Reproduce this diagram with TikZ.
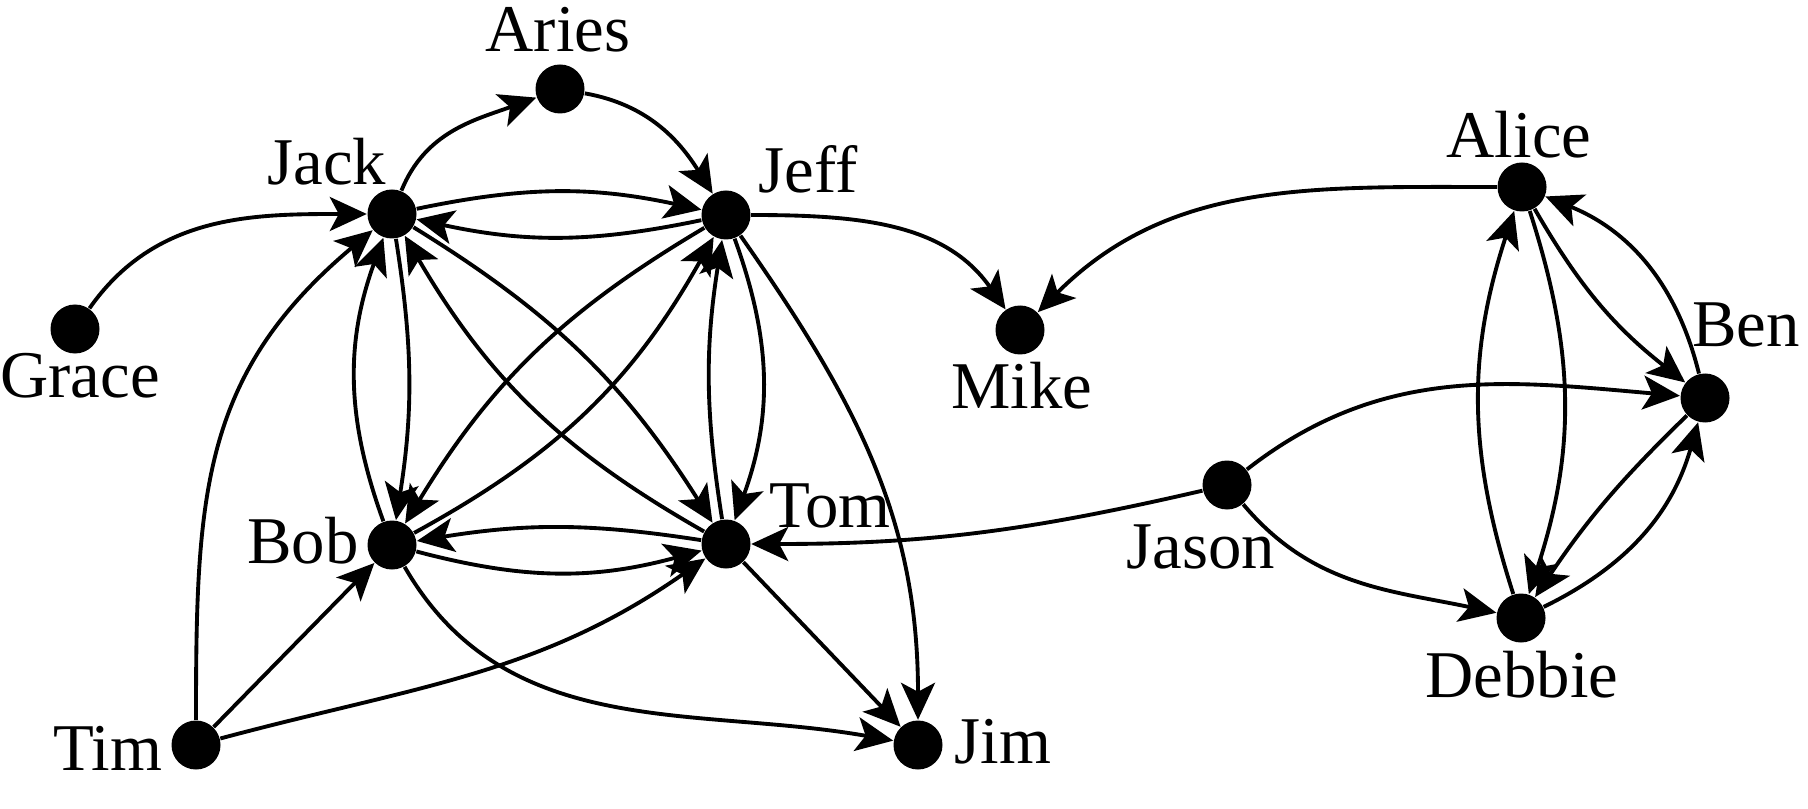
\documentclass[tikz,border=0pt]{standalone}
\usepackage{fontspec}
\setmainfont{Liberation Serif}
\usetikzlibrary{arrows.meta}
\tikzset{
    netperson/.style={circle, fill=black, minimum size=0.49cm, inner sep=0pt},
    netname/.style={anchor=base, inner sep=0pt, font=\fontsize{19}{22}\selectfont},
    netarrow/.style={draw, -{Stealth[length=3.7mm, width=3.4mm, inset=0.9mm]}, line width=1.1pt}
}

\begin{document}
\begin{tikzpicture}
    \useasboundingbox (0,0) rectangle (18.08,8.08);

    % people
    \node[netperson] (aries) at (5.60,7.19) {};
    \node[netperson] (jack) at (3.92,5.94) {};
    \node[netperson] (jeff) at (7.26,5.93) {};
    \node[netperson] (grace) at (0.75,4.79) {};
    \node[netperson] (mike) at (10.20,4.78) {};
    \node[netperson] (alice) at (15.22,6.21) {};
    \node[netperson] (ben) at (17.05,4.10) {};
    \node[netperson] (jason) at (12.27,3.23) {};
    \node[netperson] (bob) at (3.92,2.63) {};
    \node[netperson] (tom) at (7.26,2.64) {};
    \node[netperson] (debbie) at (15.21,1.90) {};
    \node[netperson] (tim) at (1.96,0.63) {};
    \node[netperson] (jim) at (9.18,0.63) {};

    % names
    \node[netname] (ariesname) at (5.58,7.56) {Aries};
    \node[netname] (jackname) at (3.27,6.23) {Jack};
    \node[netname] (jeffname) at (8.08,6.15) {Jeff};
    \node[netname] (gracename) at (0.80,4.10) {Grace};
    \node[netname] (mikename) at (10.22,4.00) {Mike};
    \node[netname] (alicename) at (15.19,6.50) {Alice};
    \node[netname] (benname) at (17.46,4.61) {Ben};
    \node[netname] (jasonname) at (12.01,2.40) {Jason};
    \node[netname] (bobname) at (3.03,2.45) {Bob};
    \node[netname] (tomname) at (8.30,2.81) {Tom};
    \node[netname] (debbiename) at (15.22,1.11) {Debbie};
    \node[netname] (timname) at (1.08,0.38) {Tim};
    \node[netname] (jimname) at (10.03,0.45) {Jim};

    % links
    \draw[netarrow] (grace) to[out=55, in=180] (jack);
    \draw[netarrow] (jack) to[out=68, in=200] (aries);
    \draw[netarrow] (aries) to[out=-10, in=122] (jeff);
    \draw[netarrow] (jack) to[bend left=12] (jeff);
    \draw[netarrow] (jeff) to[bend left=12] (jack);
    \draw[netarrow] (bob) to[bend left=20] (jack);
    \draw[netarrow] (jack) to[bend left=9] (bob);
    \draw[netarrow] (jeff) to[bend left=20] (tom);
    \draw[netarrow] (tom) to[bend left=9] (jeff);
    \draw[netarrow] (tom) to[bend right=9] (bob);
    \draw[netarrow] (bob) to[bend right=15] (tom);
    \draw[netarrow] (jack) to[bend left=13] (tom);
    \draw[netarrow] (tom) to[bend left=15] (jack);
    \draw[netarrow] (jeff) to[bend right=14] (bob);
    \draw[netarrow] (bob) to[bend right=16] (jeff);
    \draw[netarrow] (jeff) to[out=0, in=125] (mike);
    \draw[netarrow] (alice) to[out=180, in=45] (mike);
    \draw[netarrow] (jeff) to[out=-55, in=90] (jim);
    \draw[netarrow] (tim) to[out=90, in=220, looseness=1.1] (jack);
    \draw[netarrow] (tim) -- (bob);
    \draw[netarrow] (tim) to[out=15, in=215] (tom);
    \draw[netarrow] (bob) to[out=-60, in=170] (jim);
    \draw[netarrow] (tom) -- (jim);
    \draw[netarrow] (jason) to[out=193, in=0] (tom);
    \draw[netarrow] (jason) to[out=38, in=175] (ben);
    \draw[netarrow] (jason) to[out=-50, in=168] (debbie);
    \draw[netarrow] (debbie) to[bend left=18] (alice);
    \draw[netarrow] (alice) to[bend left=18] (debbie);
    \draw[netarrow] (alice) to[bend right=11] (ben);
    \draw[netarrow] (ben) to[bend right=27] (alice);
    \draw[netarrow] (ben) to[bend right=6] (debbie);
    \draw[netarrow] (debbie) to[bend right=24] (ben);
\end{tikzpicture}
\end{document}
